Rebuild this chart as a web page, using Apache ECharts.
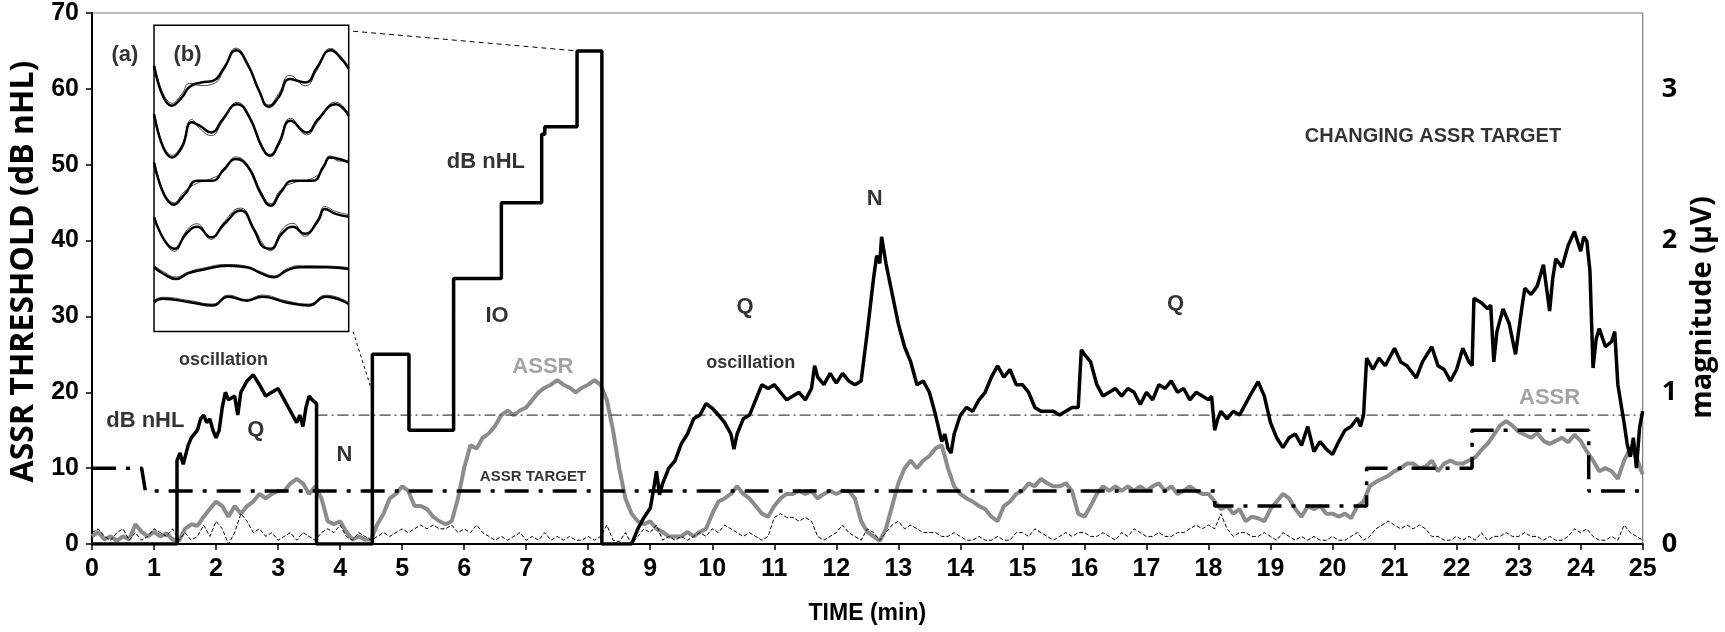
<!DOCTYPE html>
<html>
<head>
<meta charset="utf-8">
<script src="https://cdn.jsdelivr.net/npm/echarts@6/dist/echarts.min.js"></script>
<style>
  html, body { margin: 0; padding: 0; background: #fff; }
  #chart { width: 1725px; height: 632px; }
</style>
</head>
<body>
<div id="chart"></div>
<script>
// x ticks 0..25 min, left 0..70 dB nHL, right 0..3 uV
var xTicks = [0, 25, 1];
var leftTicks = [0, 70, 10];
var rightTicks = [0, 3.5, 1];

// dB nHL trace (black), [min, dB nHL]
var dbNhl = [
  [0, 0], [1.37, 0], [1.37, 11], [1.42, 12], [1.47, 10.5], [1.55, 13], [1.6, 14], [1.7, 15], [1.75, 16.5],
  [1.8, 17], [1.85, 16], [1.9, 16.5], [1.95, 15], [2.0, 14], [2.05, 15], [2.1, 18], [2.15, 20], [2.2, 19],
  [2.3, 19.5], [2.35, 17], [2.4, 20], [2.5, 21.5], [2.6, 22.3], [2.7, 21], [2.8, 19.5], [2.9, 20], [3.0, 20.5],
  [3.1, 19], [3.2, 17.5], [3.3, 16], [3.35, 17], [3.4, 15.5], [3.45, 18], [3.5, 19.5], [3.55, 19], [3.62, 18.5],
  [3.62, 0], [4.52, 0], [4.52, 25], [5.11, 25], [5.11, 15], [5.83, 15], [5.83, 35], [6.6, 35], [6.6, 45],
  [7.25, 45], [7.25, 54], [7.3, 54], [7.3, 55], [7.82, 55], [7.82, 65], [8.22, 65], [8.22, 0],
  [8.7, 0], [8.8, 2], [8.9, 3.5], [9.0, 4.7], [9.05, 7], [9.1, 9.6], [9.15, 6.5], [9.2, 8], [9.3, 10], [9.4, 11],
  [9.5, 13.2], [9.6, 14.5], [9.7, 16.5], [9.8, 17], [9.9, 18.5], [10.0, 17.9], [10.1, 17], [10.2, 16], [10.3, 14.5],
  [10.35, 12.5], [10.4, 14.5], [10.5, 16.5], [10.6, 17], [10.7, 19], [10.8, 21], [10.9, 20.5], [11.0, 21],
  [11.1, 20], [11.2, 19], [11.3, 19.5], [11.4, 20], [11.5, 19], [11.6, 20.5], [11.65, 23.5], [11.7, 22],
  [11.8, 21], [11.9, 22.5], [12.0, 21.2], [12.1, 22.5], [12.2, 21.5], [12.3, 21], [12.4, 21.5], [12.5, 28],
  [12.6, 35], [12.65, 38], [12.7, 37], [12.73, 40.5], [12.8, 37], [12.9, 33], [13.0, 29], [13.1, 26], [13.2, 24],
  [13.3, 21], [13.4, 21.5], [13.5, 20], [13.6, 17], [13.7, 13.5], [13.75, 14.5], [13.8, 12.6], [13.85, 12],
  [13.9, 14.5], [14.0, 17], [14.1, 18], [14.2, 17.5], [14.3, 19], [14.4, 20], [14.5, 22], [14.6, 23.5], [14.7, 22],
  [14.8, 23], [14.9, 21], [15.0, 21], [15.1, 20], [15.2, 18], [15.3, 17.5], [15.4, 17.5], [15.5, 17.5], [15.6, 17],
  [15.7, 17.5], [15.8, 18], [15.9, 18], [15.95, 25.6], [16.0, 25], [16.1, 24], [16.2, 21], [16.3, 19.5], [16.4, 20],
  [16.5, 20.5], [16.6, 19.5], [16.7, 20.5], [16.8, 20], [16.9, 18.4], [17.0, 20], [17.1, 19], [17.2, 21],
  [17.3, 20.5], [17.4, 21.5], [17.5, 20], [17.6, 20.5], [17.7, 19], [17.8, 20], [17.9, 19.5], [18.0, 19],
  [18.05, 19.5], [18.1, 15], [18.15, 16.5], [18.2, 17.5], [18.3, 16.5], [18.4, 17.5], [18.5, 17], [18.6, 18.5],
  [18.7, 20], [18.8, 21.4], [18.9, 19.5], [19.0, 16], [19.1, 14], [19.2, 12.7], [19.3, 14], [19.4, 14.5], [19.5, 13],
  [19.6, 15.5], [19.7, 12.2], [19.8, 13.5], [19.9, 12.5], [20.0, 11.8], [20.1, 13.5], [20.2, 15], [20.3, 15.5],
  [20.4, 16.6], [20.45, 15.5], [20.5, 17], [20.55, 24.5], [20.65, 23], [20.75, 24.5], [20.85, 23.5], [21.0, 25.8],
  [21.1, 24], [21.2, 23.5], [21.35, 21.9], [21.45, 24], [21.6, 26], [21.7, 23.5], [21.8, 23], [21.9, 21.5],
  [22.0, 23], [22.1, 25.8], [22.2, 24], [22.25, 23.5], [22.28, 32.4], [22.4, 31.8], [22.5, 31], [22.55, 31.5],
  [22.6, 24], [22.65, 28], [22.75, 31], [22.85, 29], [22.95, 25], [23.05, 31], [23.1, 33.7], [23.2, 32.9],
  [23.3, 34], [23.4, 36.8], [23.5, 30.7], [23.55, 35], [23.6, 37.6], [23.7, 36.5], [23.8, 39.4], [23.9, 41.2],
  [24.0, 38.6], [24.05, 40.5], [24.1, 39.9], [24.15, 36], [24.2, 23.2], [24.25, 27], [24.3, 28.4], [24.4, 26],
  [24.5, 26.7], [24.55, 28], [24.6, 21], [24.7, 16], [24.75, 13.2], [24.8, 11.5], [24.85, 14], [24.9, 10],
  [24.95, 15.3], [25.0, 17.5]
];

// ASSR magnitude (grey), uV, one value every 0.1 min from 0 to 25
var assr = [
  .05, .08, .03, .05, .02, .05, .03, .13, .08, .05,
  .08, .05, .07, .03, .02, .10, .13, .12, .18, .23,
  .28, .25, .18, .25, .20, .25, .28, .33, .30, .33,
  .35, .35, .40, .43, .40, .33, .38, .30, .15, .13,
  .15, .08, .03, .05, .03, .03, .13, .20, .30, .33,
  .38, .35, .25, .25, .23, .18, .15, .13, .15, .30,
  .50, .65, .63, .70, .73, .78, .85, .88, .85, .88,
  .90, .95, 1.00, 1.03, 1.05, 1.08, 1.05, 1.03, 1.00, 1.03,
  1.05, 1.08, 1.05, .95, .75, .50, .30, .20, .15, .13,
  .15, .10, .08, .05, .05, .05, .08, .05, .08, .10,
  .20, .28, .30, .33, .38, .33, .30, .25, .20, .18,
  .25, .30, .33, .33, .35, .33, .35, .30, .33, .35,
  .33, .35, .35, .30, .15, .08, .05, .02, .10, .25,
  .40, .50, .55, .50, .55, .58, .63, .65, .50, .38,
  .33, .30, .28, .25, .23, .18, .15, .25, .28, .33,
  .35, .40, .38, .43, .40, .38, .38, .40, .35, .20,
  .18, .25, .33, .38, .35, .38, .35, .38, .35, .38,
  .35, .38, .40, .35, .38, .33, .35, .38, .35, .33,
  .33, .28, .23, .25, .20, .23, .15, .18, .17, .15,
  .23, .28, .33, .30, .23, .18, .25, .23, .25, .20,
  .20, .18, .20, .17, .25, .28, .38, .41, .43, .45,
  .48, .50, .53, .53, .50, .51, .55, .48, .53, .55,
  .53, .53, .55, .57, .62, .66, .72, .78, .81, .78,
  .74, .72, .70, .73, .68, .66, .68, .70, .67, .72,
  .68, .61, .55, .48, .50, .48, .43, .55, .63, .57,
  .46
];

// noise floor (thin dashed), uV, one value every 0.1 min
var noise = [
  .075, .1, .05, .025, .075, .1, .025, .075, .025, .05,
  .1, .075, .05, .1, .025, .075, .025, .05, .125, .05,
  .15, .1, 0, .075, .2, .15, .075, .1, .05, .075,
  .025, .05, .075, .025, .075, .05, .025, .075, .1, .075,
  .125, .05, .025, .075, .05, .025, .05, .075, .05, .075,
  .1, .075, .1, .125, .1, .125, .1, .1, .125, .075,
  .1, .075, .125, .075, .05, .025, .05, .025, .05, .075,
  .025, .05, .025, .075, .025, .05, .025, .05, .025, .025,
  .05, .025, .05, .125, .025, .015, .075, 0, .05, .1,
  .075, .125, .025, .05, .025, .05, .025, .05, .075, .05,
  .1, .075, .125, .1, .075, .05, .075, .05, .025, .05,
  .175, .2, .175, .175, .15, .175, .15, .05, .025, .05,
  .075, .125, .075, .05, .025, .1, .075, .025, .075, .125,
  .15, .1, .125, .1, .075, .075, .075, .05, .05, .075,
  .05, .025, .025, .05, .025, .025, .05, .025, .025, .075,
  .075, .05, .1, .075, .05, .025, .05, .075, .05, .075,
  .075, .05, .05, .075, .05, .025, .075, .05, .1, .075,
  .05, .05, .075, .05, .05, .075, .075, .1, .125, .1,
  .125, .1, .2, .1, .05, .075, .075, .05, .05, .075,
  .05, .025, .075, .05, .025, .05, .025, .05, .025, .025,
  .05, .025, .025, .05, .075, .025, .05, .1, .125, .15,
  .125, .1, .125, .1, .125, .1, .05, .05, .025, .025,
  .05, .025, .05, .025, .075, .025, .05, .05, .075, .05,
  .05, .075, .05, .05, .025, .05, .025, .025, .05, .1,
  .075, .1, .05, .025, .025, .05, .025, .125, .075, .05,
  .025
];

// ASSR target (thick dash-dot), [min, uV]
var target = [
  [0, 0.5], [0.8, 0.5], [0.86, 0.35], [18.1, 0.35], [18.1, 0.25], [20.55, 0.25], [20.55, 0.5],
  [22.25, 0.5], [22.25, 0.75], [24.13, 0.75], [24.13, 0.35], [25, 0.35]
];

// threshold reference (thin dash-dot), [min, dB nHL]
var refLevel = [[3.62, 17], [25, 17]];

// dotted zoom links from the inset, [min, dB nHL]
var linkTop = [[4.21, 67.6], [7.82, 65]];
var linkBottom = [[4.21, 28], [4.52, 20]];

// inset (b): averaged waveforms, [% of width, % of height]
var waveThick = [
  [[0, 86.7], [9.3, 73.7], [14.3, 76.4], [18.3, 79.9], [24.2, 81.3], [30.2, 81.8], [36.1, 86.2], [42.1, 91.8], [48, 87.3], [54, 78.6], [58.9, 73.4], [63.9, 76.4], [69.8, 82.4], [77.8, 81.3], [83.7, 86.2], [90.7, 91.8], [95.6, 89.5], [100, 85.7]],
  [[0, 71], [9.3, 56.8], [14.3, 60.1], [19.4, 68.3], [23.4, 67.2], [29.4, 65], [35.3, 69.3], [42.7, 74.2], [49, 69.9], [55.6, 60.1], [59.5, 57.4], [64, 61.2], [70.2, 68.8], [78.4, 65], [84.3, 69.3], [93.3, 74.2], [100, 70.4]],
  [[0, 55.2], [10.3, 41.4], [15.9, 44.9], [22.2, 49.2], [29.8, 49.2], [36, 53], [42, 56.3], [48.4, 53.6], [55, 44.9], [59.9, 41.1], [65, 45.4], [71.4, 49.2], [81.3, 49.2], [87.3, 54.1], [90.3, 56.8], [95.2, 56.3], [100, 55.2]],
  [[0, 37.3], [10.7, 27], [16.5, 31.9], [22.2, 34.2], [29.2, 30.8], [36.1, 35.1], [44.4, 39.5], [51.6, 32.9], [56.3, 27.5], [59.9, 27], [65.5, 31.9], [71.4, 34.2], [77.4, 31.9], [84.3, 36.2], [87.7, 40], [93.3, 38.4], [100, 37.5]],
  [[0, 21], [5, 18.8], [11.3, 17.2], [17.5, 19], [24.4, 20.1], [38, 21.5], [47.6, 21], [55, 19], [61.5, 17.7], [68.1, 19.9], [74.4, 21], [88.9, 21], [100, 20.4]],
  [[0, 9.6], [4.4, 10.7], [18.3, 9.6], [30.2, 8.5], [38, 11.4], [47.6, 10.1], [55.6, 11.4], [67.5, 9.6], [79.4, 8.5], [88.3, 11.4], [100, 9]]
];
var waveThin = [
  [[0, 88], [9.3, 74.5], [14.3, 77.5], [18.3, 81], [24.2, 80.3], [30.2, 80.8], [36.1, 85.5], [42.1, 92.5], [48, 87.8], [54, 78], [58.9, 74], [63.9, 77.5], [69.8, 83.6], [77.8, 80.2], [83.7, 85.3], [90.7, 92.4], [95.6, 90], [100, 86.5]],
  [[0, 72], [9.3, 57.5], [14.3, 61], [19.4, 69.2], [23.4, 66.3], [29.4, 64], [35.3, 68.6], [42.7, 74.8], [49, 70.5], [55.6, 59.5], [59.5, 57.9], [64, 62], [70.2, 69.6], [78.4, 64.2], [84.3, 68.6], [93.3, 74.9], [100, 71]],
  [[0, 56], [10.3, 42], [15.9, 45.8], [22.2, 48.4], [29.8, 50], [36, 52.4], [42, 57], [48.4, 54.2], [55, 45.6], [59.9, 41.8], [65, 46.2], [71.4, 48.5], [81.3, 50], [87.3, 53.4], [90.3, 57.4], [95.2, 55.6], [100, 56]],
  [[0, 38], [10.7, 26.2], [16.5, 32.8], [22.2, 35.2], [29.2, 30.1], [36.1, 35.9], [44.4, 40.3], [51.6, 33.6], [56.3, 28.3], [59.9, 26.4], [65.5, 33], [71.4, 35.3], [77.4, 31.1], [84.3, 37], [87.7, 40.8], [93.3, 39.2], [100, 38.2]],
  [[0, 21.6], [5, 19.5], [11.3, 17.8], [17.5, 19.4], [24.4, 20.6], [38, 21.9], [47.6, 21.3], [55, 19.5], [61.5, 18.2], [68.1, 20.4], [74.4, 21.5], [88.9, 21.4], [100, 20.9]],
  [[0, 10.2], [4.4, 11.2], [18.3, 10.1], [30.2, 9], [38, 11.9], [47.6, 10.5], [55.6, 11.9], [67.5, 10.1], [79.4, 9], [88.3, 11.9], [100, 9.5]]
];

// text notes: [text, min, dB nHL]
var notes = [
  ['oscillation', 2.12, 24.2], ['dB nHL', 0.86, 16.2], ['Q', 2.64, 15.1], ['N', 4.07, 11.8],
  ['ASSR TARGET', 7.11, 8.9], ['IO', 6.53, 30], ['dB nHL', 6.35, 50.4], ['N', 12.62, 45.5],
  ['Q', 10.53, 31.3], ['oscillation', 10.62, 23.8], ['CHANGING ASSR TARGET', 21.62, 53.7],
  ['Q', 17.47, 31.6], ['(a)', 0.53, 64.5], ['(b)', 1.54, 64.5]
];
var greyNotes = [['ASSR', 7.27, 23.4], ['ASSR', 23.5, 19.2]];

// inset box in main-axis units
var insetBox = { x0: 1.09, x1: 4.21, y0: 28, y1: 68.4 };

var W = 1725, H = 632;
var G = { left: 86, right: 79, top: 13, bottom: 88 };
function px(x) { return G.left + x / 25 * (W - G.left - G.right); }
function py(y) { return G.top + (70 - y) / 70 * (H - G.top - G.bottom); }

function timed(arr) {
  return arr.map(function (v, i) { return [i / 10, v]; });
}

var numFont = 'Liberation Sans, Arial, sans-serif';
var titleFont = 'Open Sans, sans-serif';

function noteItem(n, size, color) {
  return {
    value: [n[1], n[2]],
    label: { show: true, formatter: n[0], position: 'inside', fontFamily: numFont, fontWeight: 'bold', fontSize: size, color: color }
  };
}
var noteSize = { 'oscillation': 18, 'dB nHL': 22, 'Q': 22, 'N': 22, 'ASSR TARGET': 15, 'IO': 22, 'CHANGING ASSR TARGET': 20, '(a)': 22, '(b)': 22 };

var series = [
  { type: 'line', name: 'ASSR', xAxisIndex: 0, yAxisIndex: 1, data: timed(assr), showSymbol: false,
    lineStyle: { color: '#8c8c8c', width: 4 }, z: 2 },
  { type: 'line', name: 'noise', xAxisIndex: 0, yAxisIndex: 1, data: timed(noise), showSymbol: false,
    lineStyle: { color: '#000', width: 1, type: [4, 2] }, z: 3 },
  { type: 'line', name: 'ref', xAxisIndex: 0, yAxisIndex: 0, data: refLevel, showSymbol: false,
    lineStyle: { color: '#444', width: 1.2, type: [11, 4, 2, 4] }, z: 3 },
  { type: 'line', name: 'ASSR TARGET', xAxisIndex: 0, yAxisIndex: 1, data: target, showSymbol: false,
    lineStyle: { color: '#000', width: 3.5, type: [24, 10, 4, 10] }, z: 4 },
  { type: 'line', name: 'dB nHL', xAxisIndex: 0, yAxisIndex: 0, data: dbNhl, showSymbol: false,
    lineStyle: { color: '#000', width: 3.5 }, z: 5 },
  { type: 'line', xAxisIndex: 0, yAxisIndex: 0, data: linkTop, showSymbol: false,
    lineStyle: { color: '#000', width: 1, type: [5, 4] }, z: 3 },
  { type: 'line', xAxisIndex: 0, yAxisIndex: 0, data: linkBottom, showSymbol: false,
    lineStyle: { color: '#000', width: 1, type: [3, 3] }, z: 3 },
  { type: 'scatter', xAxisIndex: 0, yAxisIndex: 0, symbolSize: 1, itemStyle: { color: 'rgba(0,0,0,0)' },
    data: notes.map(function (n) { return noteItem(n, noteSize[n[0]], '#000'); }), z: 10 },
  { type: 'scatter', xAxisIndex: 0, yAxisIndex: 0, symbolSize: 1, itemStyle: { color: 'rgba(0,0,0,0)' },
    data: greyNotes.map(function (n) { return noteItem(n, 22, '#8c8c8c'); }), z: 10 }
];

waveThin.forEach(function (w) {
  series.push({ type: 'line', xAxisIndex: 1, yAxisIndex: 2, data: w, showSymbol: false, smooth: 0.5,
    lineStyle: { color: '#444', width: 1 }, z: 6 });
});
waveThick.forEach(function (w) {
  series.push({ type: 'line', xAxisIndex: 1, yAxisIndex: 2, data: w, showSymbol: false, smooth: 0.5,
    lineStyle: { color: '#000', width: 2.5 }, z: 7 });
});

var chart = echarts.init(document.getElementById('chart'));
chart.setOption({
  animation: false,
  backgroundColor: '#fff',
  grid: [
    { left: G.left, right: G.right, top: G.top, bottom: G.bottom, show: true, borderColor: '#7a7a7a', borderWidth: 1.2 },
    { left: px(insetBox.x0), top: py(insetBox.y1), width: px(insetBox.x1) - px(insetBox.x0),
      height: py(insetBox.y0) - py(insetBox.y1), show: true, borderColor: '#000', borderWidth: 1.5, backgroundColor: '#fff' }
  ],
  xAxis: [
    { type: 'value', gridIndex: 0, min: xTicks[0], max: xTicks[1], interval: xTicks[2],
      name: 'TIME (min)', nameLocation: 'middle', nameGap: 58,
      nameTextStyle: { fontFamily: numFont, fontWeight: 'bold', fontSize: 23, color: '#000' },
      axisLine: { lineStyle: { color: '#000', width: 2 } },
      axisTick: { length: 6, lineStyle: { color: '#000', width: 1.5 } },
      axisLabel: { margin: 13, fontFamily: numFont, fontWeight: 'bold', fontSize: 25, color: '#000' },
      splitLine: { show: false } },
    { type: 'value', gridIndex: 1, min: 0, max: 100, show: false }
  ],
  yAxis: [
    { type: 'value', gridIndex: 0, min: leftTicks[0], max: leftTicks[1], interval: leftTicks[2],
      name: 'ASSR THRESHOLD (dB nHL)', nameLocation: 'middle', nameGap: 52,
      nameTextStyle: { fontFamily: titleFont, fontWeight: 'bold', fontSize: 32, color: '#000', padding: [0, 0, 0, 14] },
      axisLine: { show: true, lineStyle: { color: '#000', width: 2 } },
      axisTick: { show: true, length: 6, lineStyle: { color: '#000', width: 1.5 } },
      axisLabel: { margin: 13, fontFamily: numFont, fontWeight: 'bold', fontSize: 25, color: '#000' },
      splitLine: { show: false } },
    { type: 'value', gridIndex: 0, position: 'right', min: rightTicks[0], max: rightTicks[1], interval: rightTicks[2],
      name: 'magnitude (\u03bcV)', nameLocation: 'middle', nameGap: 44,
      nameTextStyle: { fontFamily: titleFont, fontWeight: 'bold', fontSize: 29, color: '#000', padding: [0, 58, 0, 0] },
      axisLine: { show: false }, axisTick: { show: false },
      axisLabel: { margin: 19, showMaxLabel: false, fontFamily: titleFont, fontWeight: 'bold', fontSize: 27, color: '#000' },
      splitLine: { show: false } },
    { type: 'value', gridIndex: 1, min: 0, max: 100, show: false }
  ],
  series: series
});
</script>
</body>
</html>
